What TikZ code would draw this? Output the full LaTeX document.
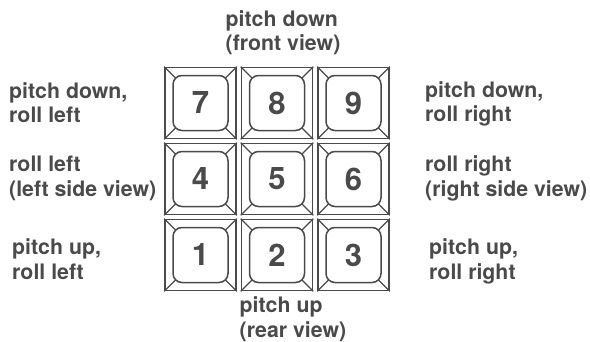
\documentclass[tikz,border=0pt]{standalone}
\usepackage{fontspec}
\setmainfont{TeX Gyre Heros}
\definecolor{ink}{HTML}{4A4A4A}
\tikzset{
  keybox/.style={draw=ink, line width=1.6pt, minimum size=71pt, inner sep=0pt},
  keyface/.style={draw=ink, fill=white, line width=1.5pt, rounded corners=9pt,
    minimum size=55pt, inner sep=0pt, font=\fontsize{31}{31}\selectfont\bfseries, text=ink},
  caption/.style={inner sep=0pt, text=ink, font=\fontsize{21.3}{24.5}\selectfont\bfseries}
}
\begin{document}
\begin{tikzpicture}[x=1pt, y=-1pt]
\useasboundingbox (0,0) rectangle (590,341);

% keypad, 3 by 3
\foreach \n/\c/\r in {7/0/0, 8/1/0, 9/2/0, 4/0/1, 5/1/1, 6/2/1, 1/0/2, 2/1/2, 3/2/2}{
  \node[keybox] (key\n) at (200.5+76.5*\c, 103+76*\r) {};
  \draw[ink, line width=1.3pt] (key\n.north west) -- (key\n.south east);
  \draw[ink, line width=1.3pt] (key\n.north east) -- (key\n.south west);
  \node[keyface] (face\n) at (key\n.center) {\n};
}

% top and bottom (base = last line)
\node[caption, align=left, anchor=base west] (front) at (225.5,50.5) {pitch down\\(front view)};
\node[caption, align=left, anchor=base west] (rear) at (239.5,337) {pitch up\\(rear view)};

% left side
\node[caption, align=left, anchor=base west] (downleft) at (9,122.5) {pitch down,\\roll left};
\node[caption, align=left, anchor=base west] (rollleft) at (9,196) {roll left\\(left side view)};
\node[caption, align=left, anchor=base west] (upleft) at (12,279) {pitch up,\\roll left};

% right side
\node[caption, align=left, anchor=base west] (downright) at (425,121.5) {pitch down,\\roll right};
\node[caption, align=left, anchor=base west] (rollright) at (425,196) {roll right\\(right side view)};
\node[caption, align=left, anchor=base west] (upright) at (429,279) {pitch up,\\roll right};
\end{tikzpicture}
\end{document}
